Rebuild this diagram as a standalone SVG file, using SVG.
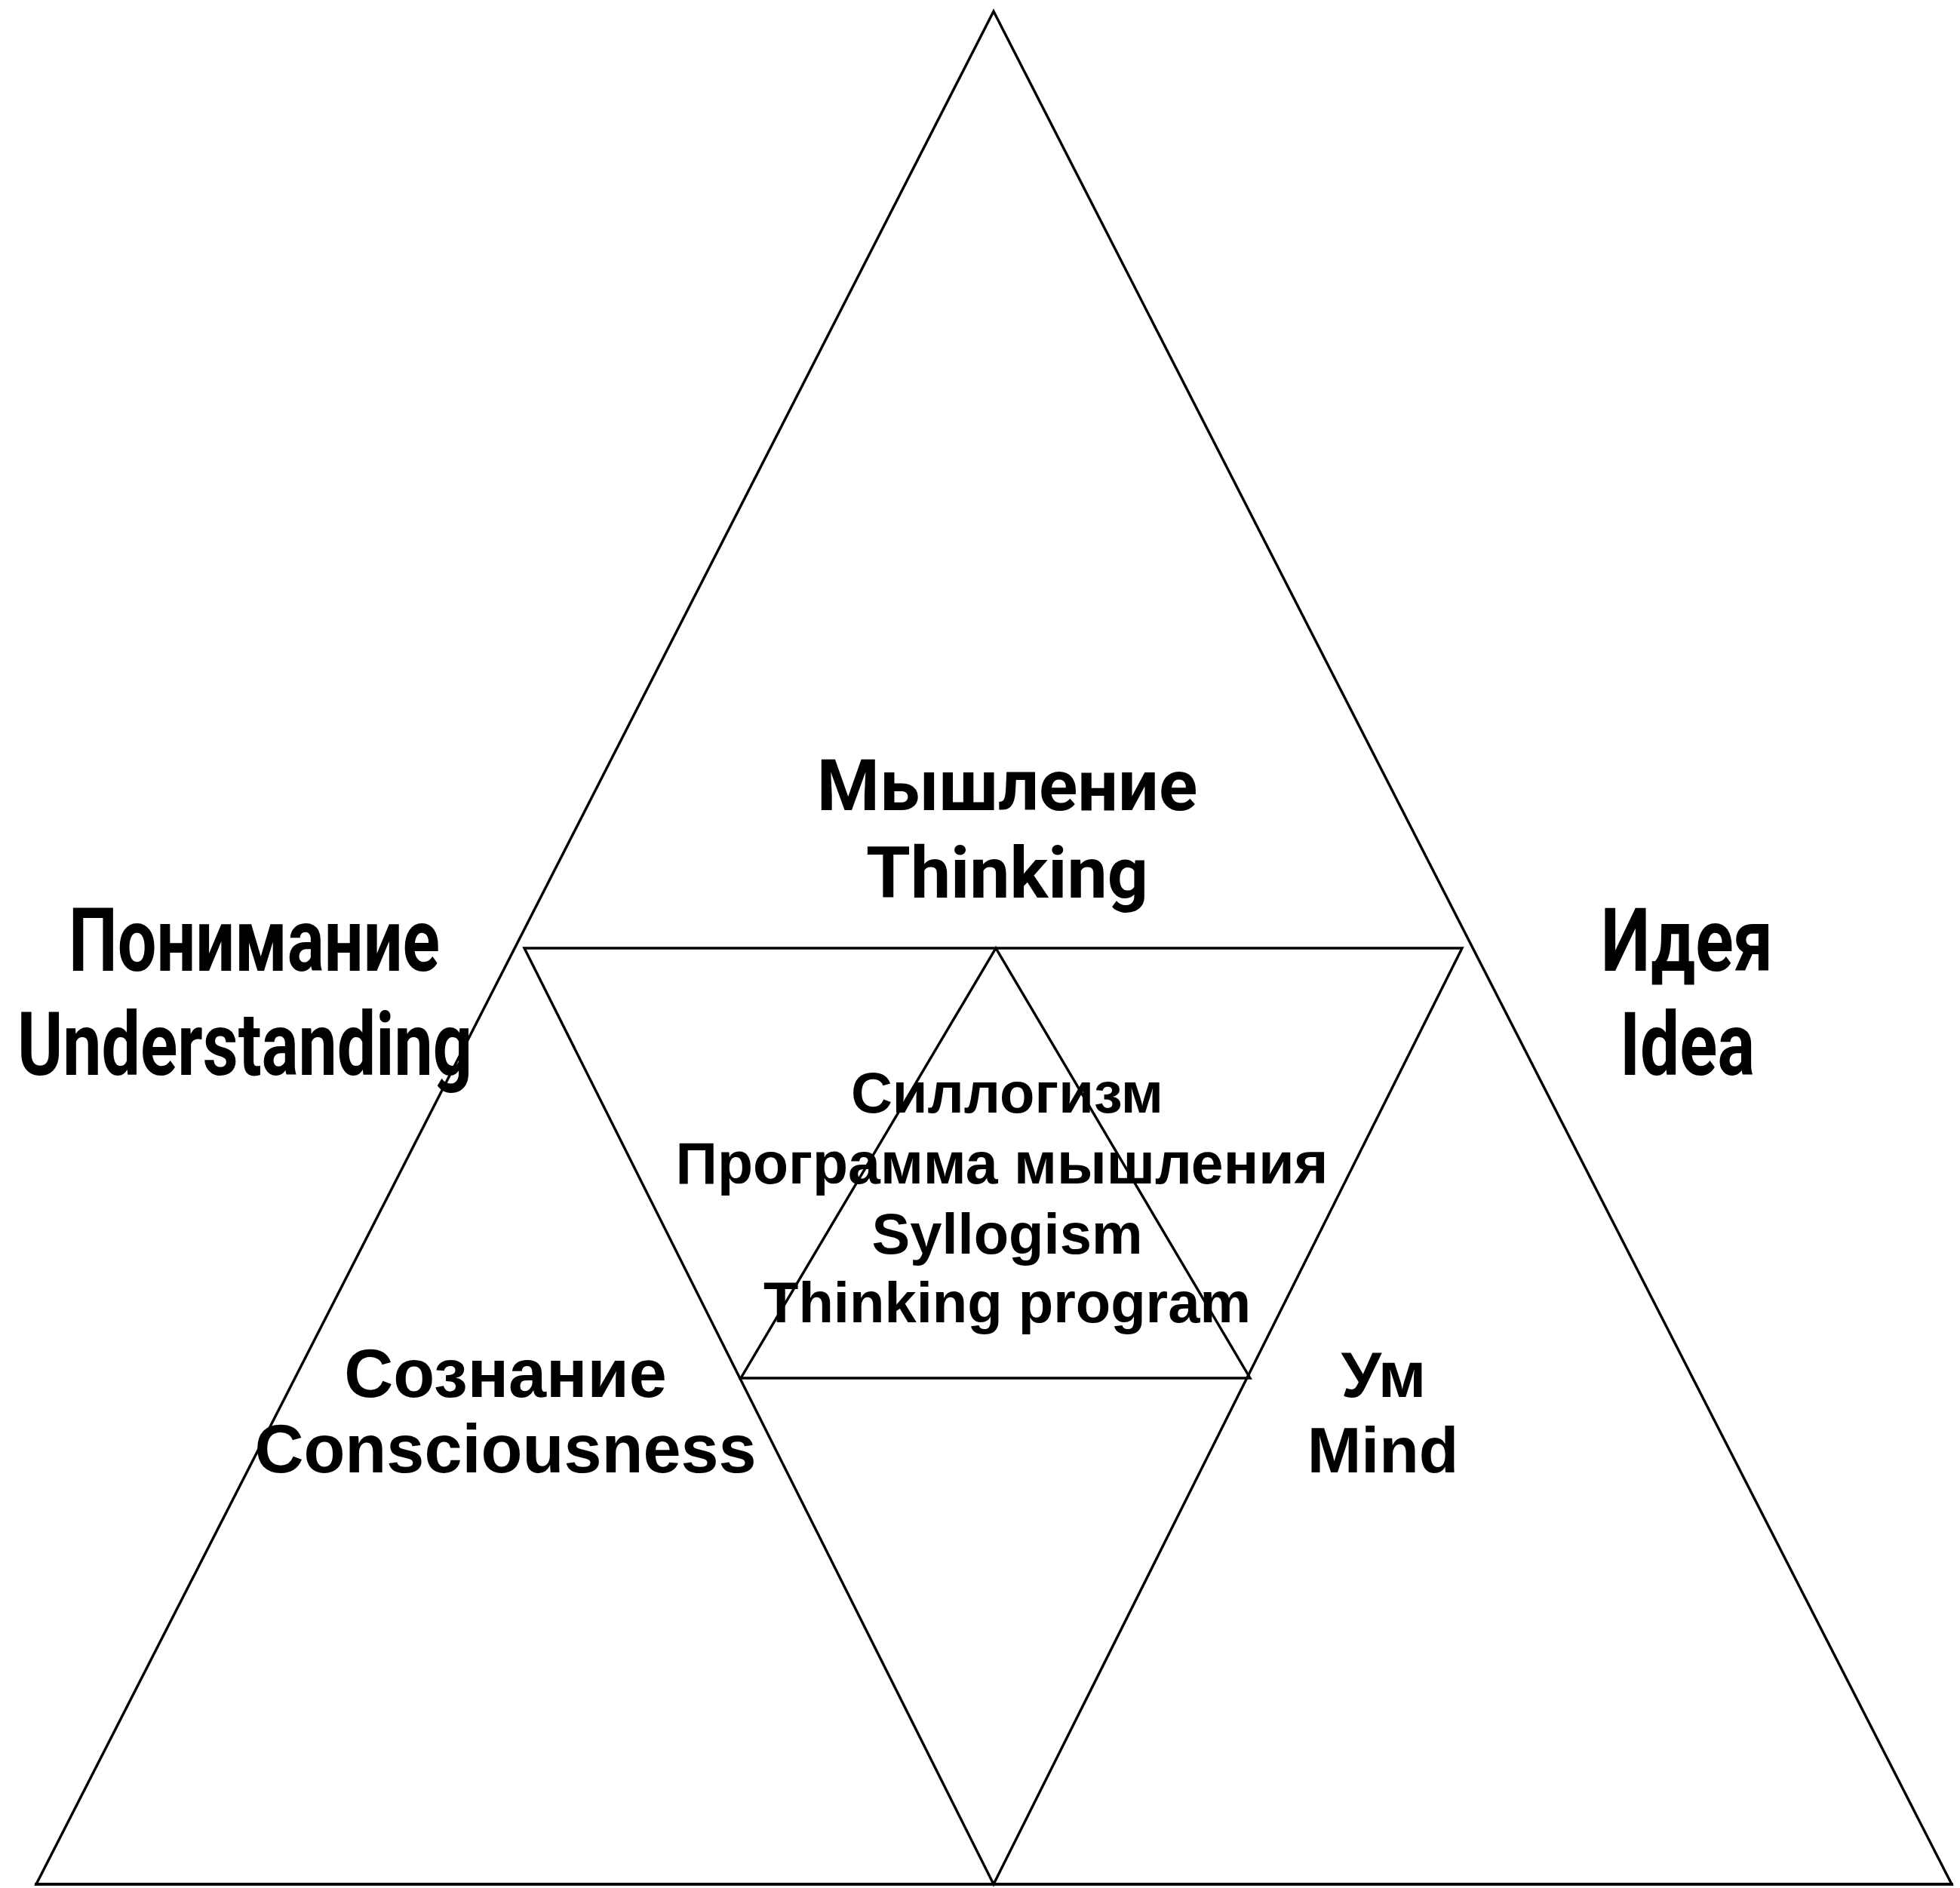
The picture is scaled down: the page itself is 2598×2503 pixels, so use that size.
<svg xmlns="http://www.w3.org/2000/svg" width="2598" height="2503" viewBox="0 0 2598 2503">
<style>
.ln{fill:none;stroke:#000;stroke-width:3.4;stroke-linejoin:miter}
.big{font-family:Roboto,"Liberation Sans",sans-serif;font-weight:bold;fill:#000;text-anchor:middle}
.cond{font-family:Roboto,"Liberation Sans",sans-serif;font-weight:bold;fill:#000;font-size:117px}
.mid{font-family:"Liberation Sans",Arial,sans-serif;font-weight:bold;fill:#000;text-anchor:middle}
</style>
<rect width="2598" height="2503" fill="#fff"/>
<g id="connectors">
<polygon class="ln" points="1317,15 2587,2498 48,2498"/>
<polygon class="ln" points="695,1257 1938,1257 1317,2498"/>
<polygon class="ln" points="1320,1257 1657,1827 982,1827"/>
<line class="ln" x1="46" y1="2498" x2="2589" y2="2498" stroke-width="4.5"/>
</g>
<g id="thinking">
<text class="big" x="1335" y="1074" font-size="95">Мышление</text>
<text class="big" x="1335" y="1190" font-size="95">Thinking</text>
</g>
<g id="understanding">
<text class="cond" x="91" y="1287" textLength="492" lengthAdjust="spacingAndGlyphs">Понимание</text>
<text class="cond" x="23" y="1425" textLength="603" lengthAdjust="spacingAndGlyphs">Understanding</text>
</g>
<g id="idea">
<text class="cond" x="2122" y="1287" textLength="228" lengthAdjust="spacingAndGlyphs">Идея</text>
<text class="cond" x="2147" y="1425" textLength="179" lengthAdjust="spacingAndGlyphs">Idea</text>
</g>
<g id="syllogism">
<text class="mid" x="1335" y="1475" font-size="76">Силлогизм</text>
<text class="mid" x="1328" y="1569" font-size="77">Программа мышления</text>
<text class="mid" x="1335" y="1662" font-size="76">Syllogism</text>
<text class="mid" x="1335" y="1753" font-size="76">Thinking program</text>
</g>
<g id="consciousness">
<text class="mid" x="670" y="1852" font-size="90">Сознание</text>
<text class="mid" x="670" y="1952" font-size="90">Consciousness</text>
</g>
<g id="mind">
<text class="mid" x="1834" y="1852" font-size="86">Ум</text>
<text class="mid" x="1833" y="1952" font-size="86">Mind</text>
</g>
</svg>
